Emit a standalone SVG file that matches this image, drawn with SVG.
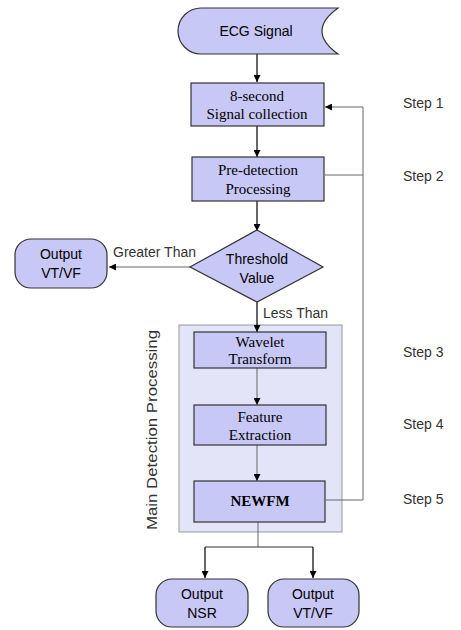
<svg xmlns="http://www.w3.org/2000/svg" width="461" height="630" viewBox="0 0 461 630">
<defs>
<marker id="ah" viewBox="0 0 10 10" refX="10" refY="5" markerWidth="7" markerHeight="7" markerUnits="userSpaceOnUse" orient="auto"><path d="M0,0 L10,5 L0,10 z" fill="#000"/></marker>
</defs>
<style>
.node{fill:#c8c8f6;stroke:#333;stroke-width:1.2}
.outer{fill:#e4e4f8;stroke:#999;stroke-width:1}
.st{font-family:"Liberation Serif",serif;font-size:15px;fill:#000;text-anchor:middle}
.ss{font-family:"Liberation Sans",Arial,sans-serif;font-size:14px;fill:#000;text-anchor:middle}
.lb{font-family:"Liberation Sans",Arial,sans-serif;font-size:14px;fill:#333}
.c{fill:none;stroke:#000;stroke-width:1.2}
.g{fill:none;stroke:#666;stroke-width:1}
</style>
<rect width="461" height="630" fill="#fff"/>
<g id="main-detection">
<rect class="outer" x="179" y="325" width="163" height="207"/>
<text class="lb" transform="translate(157,430) rotate(-90)" text-anchor="middle" font-size="16" fill="#000" textLength="200" lengthAdjust="spacingAndGlyphs">Main Detection Processing</text>
</g>
<g id="connectors">
<line class="c" x1="257" y1="54" x2="257" y2="82" marker-end="url(#ah)"/>
<line class="c" x1="257" y1="126" x2="257" y2="157" marker-end="url(#ah)"/>
<line class="c" x1="257" y1="201" x2="257" y2="231" marker-end="url(#ah)"/>
<line class="g" x1="190" y1="267" x2="109" y2="267" marker-end="url(#ah)"/>
<line class="c" x1="257" y1="302" x2="257" y2="332" marker-end="url(#ah)"/>
<line class="g" x1="257" y1="368" x2="257" y2="405" marker-end="url(#ah)"/>
<line class="g" x1="257" y1="445" x2="257" y2="481" marker-end="url(#ah)"/>
<polyline class="g" points="325,175 363,175"/>
<polyline class="g" points="326,500 363,500 363,107 325,107" marker-end="url(#ah)"/>
<polyline class="g" points="258,522 258,547"/>
<polyline class="c" points="205,547 313,547" style="stroke:#333"/>
<line class="c" x1="205" y1="547" x2="205" y2="578" marker-end="url(#ah)"/>
<line class="c" x1="313" y1="547" x2="313" y2="578" marker-end="url(#ah)"/>
</g>
<g id="ecg-signal">
<path class="node" d="M201,8 L338,8 Q306,31 338,54 L201,54 A23,23 0 0 1 201,8 z"/>
<text class="ss" x="256" y="36">ECG Signal</text>
</g>
<g id="signal-collection">
<rect class="node" x="191" y="83" width="133" height="43"/>
<text class="st" x="257" y="101">8-second</text>
<text class="st" x="257" y="119">Signal collection</text>
</g>
<g id="pre-detection">
<rect class="node" x="192" y="157" width="132" height="44"/>
<text class="st" x="258" y="175">Pre-detection</text>
<text class="st" x="258" y="194">Processing</text>
</g>
<g id="threshold">
<path class="node" d="M257,230 L323,267 L257,302 L190,267 z"/>
<text class="ss" x="257" y="264">Threshold</text>
<text class="ss" x="257" y="283">Value</text>
</g>
<g id="output-vtvf-left">
<rect class="node" x="15" y="239" width="92" height="49" rx="16"/>
<text class="ss" x="61" y="259">Output</text>
<text class="ss" x="61" y="278">VT/VF</text>
</g>
<text class="lb" x="113" y="257">Greater Than</text>
<text class="lb" x="263" y="318">Less Than</text>
<g id="wavelet">
<rect class="node" x="194" y="332" width="132" height="36"/>
<text class="st" x="260" y="347">Wavelet</text>
<text class="st" x="260" y="364">Transform</text>
</g>
<g id="feature">
<rect class="node" x="194" y="405" width="132" height="40"/>
<text class="st" x="260" y="422">Feature</text>
<text class="st" x="260" y="440">Extraction</text>
</g>
<g id="newfm">
<rect class="node" x="194" y="481" width="131" height="41"/>
<text class="st" x="260" y="506" font-weight="bold" font-size="13">NEWFM</text>
</g>
<g id="output-nsr">
<rect class="node" x="156" y="579" width="92" height="48" rx="16"/>
<text class="ss" x="202" y="599">Output</text>
<text class="ss" x="202" y="618">NSR</text>
</g>
<g id="output-vtvf">
<rect class="node" x="268" y="579" width="91" height="48" rx="16"/>
<text class="ss" x="313" y="599">Output</text>
<text class="ss" x="313" y="618">VT/VF</text>
</g>
<g id="steps">
<text class="lb" x="403" y="108" font-size="15">Step 1</text>
<text class="lb" x="403" y="181" font-size="15">Step 2</text>
<text class="lb" x="403" y="357" font-size="15">Step 3</text>
<text class="lb" x="403" y="429" font-size="15">Step 4</text>
<text class="lb" x="403" y="504" font-size="15">Step 5</text>
</g>
</svg>
